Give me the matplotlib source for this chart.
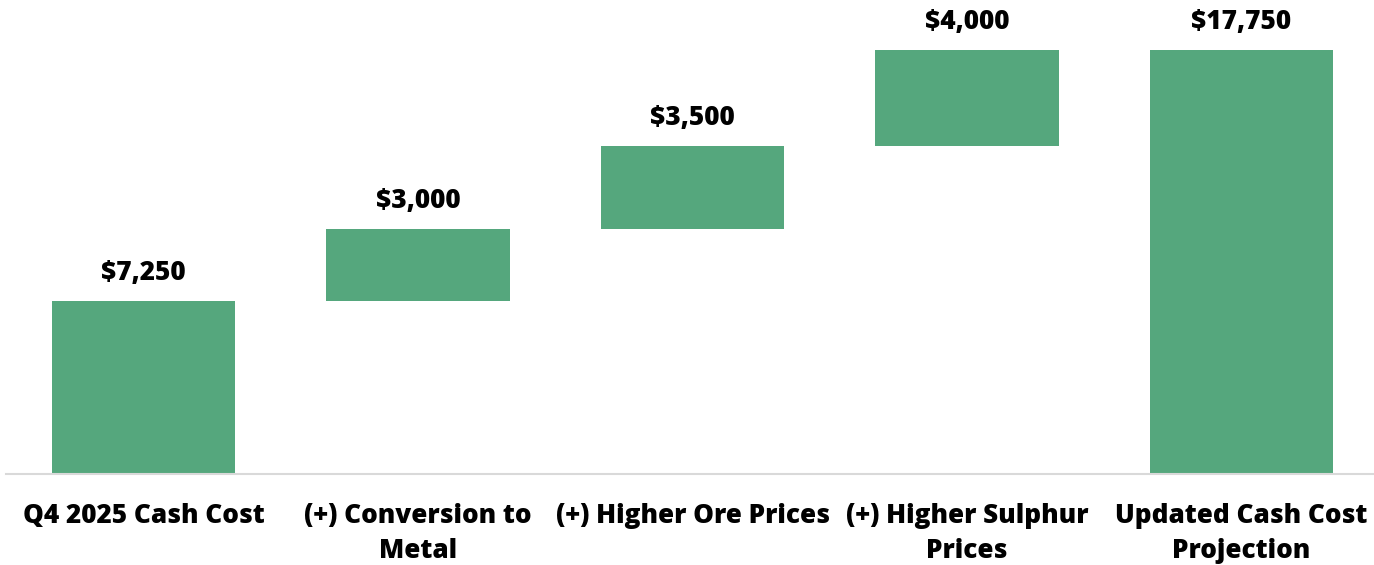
import matplotlib.pyplot as plt

plt.rcParams['font.family'] = ['Open Sans', 'DejaVu Sans']

categories = ["Q4 2025 Cash Cost", "(+) Conversion to\nMetal", "(+) Higher Ore Prices",
              "(+) Higher Sulphur\nPrices", "Updated Cash Cost\nProjection"]
values = [7250, 3000, 3500, 4000, 17750]
is_total = [True, False, False, False, True]
labels = ["$7,250", "$3,000", "$3,500", "$4,000", "$17,750"]

green = "#55A77D"

# work out where each bar starts
bottoms = []
running = 0
for v, tot in zip(values, is_total):
    if tot:
        bottoms.append(0)
        running = v
    else:
        bottoms.append(running)
        running += v

fig = plt.figure(figsize=(13.74, 5.65), dpi=100)
ax = fig.add_axes([6.25 / 1374, 91 / 565, 1372.5 / 1374, 474 / 565])

x = range(len(categories))
ax.bar(x, values, bottom=bottoms, width=0.667, color=green)

for i, (v, b, lab) in enumerate(zip(values, bottoms, labels)):
    ax.annotate(lab, (i, v + b), xytext=(0, 20), textcoords="offset points",
                ha="center", va="center", fontsize=18.8, fontweight="heavy")

ax.set_xlim(-0.5, 4.5)
ax.set_ylim(0, 17750 * 474 / 424)
ax.set_xticks(list(x))
ax.set_xticklabels(categories, fontsize=18.8, fontweight="heavy", linespacing=1.42)
ax.tick_params(axis="x", length=0, pad=21)
ax.set_yticks([])
for s in ["top", "right", "left"]:
    ax.spines[s].set_visible(False)
ax.spines["bottom"].set_color("#D9D9D9")
ax.spines["bottom"].set_linewidth(1.5)

fig.savefig("out.png", dpi=100)
